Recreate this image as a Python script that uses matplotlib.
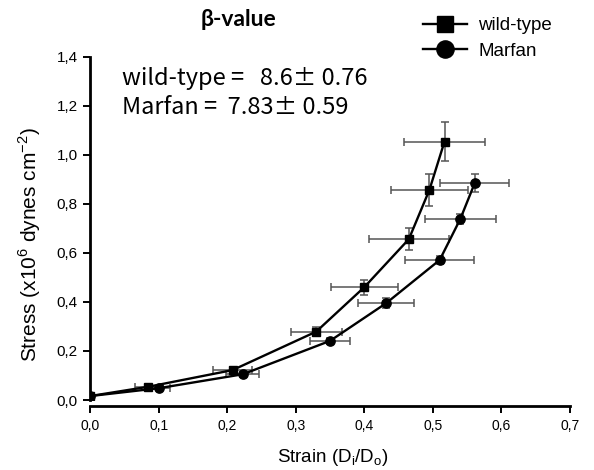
import matplotlib
matplotlib.use("Agg")
import matplotlib.pyplot as plt
import numpy as np

# wild-type data (strain, stress, errors)
wt_strain = [0.0, 0.085, 0.208, 0.330, 0.400, 0.465, 0.495, 0.517]
wt_stress = [0.016, 0.054, 0.122, 0.279, 0.460, 0.656, 0.857, 1.054]
wt_xerr = [0.0, 0.020, 0.028, 0.037, 0.049, 0.058, 0.056, 0.059]
wt_yerr = [0.0, 0.008, 0.012, 0.020, 0.030, 0.044, 0.065, 0.078]

# Marfan data
mf_strain = [0.0, 0.100, 0.223, 0.350, 0.432, 0.510, 0.540, 0.561]
mf_stress = [0.016, 0.048, 0.105, 0.241, 0.395, 0.571, 0.738, 0.884]
mf_xerr = [0.0, 0.017, 0.024, 0.029, 0.041, 0.050, 0.052, 0.050]
mf_yerr = [0.0, 0.006, 0.010, 0.012, 0.020, 0.015, 0.020, 0.037]

xticks = [0.0, 0.1, 0.2, 0.3, 0.4, 0.5, 0.6, 0.7]
yticks = [0.0, 0.2, 0.4, 0.6, 0.8, 1.0, 1.2, 1.4]

plt.rcParams['font.family'] = ['Liberation Sans', 'DejaVu Sans']
plt.rcParams['mathtext.fontset'] = 'custom'
plt.rcParams['mathtext.rm'] = 'Liberation Sans'

fig = plt.figure(figsize=(5.94, 4.70), dpi=100)
ax = fig.add_axes([90 / 594, 70 / 470, 480 / 594, 343.3 / 470])

err_kw = dict(ecolor='#555555', elinewidth=1.1, capsize=3, capthick=1.1, zorder=2)
ax.errorbar(wt_strain, wt_stress, xerr=wt_xerr, yerr=wt_yerr, fmt='none', **err_kw)
ax.errorbar(mf_strain, mf_stress, xerr=mf_xerr, yerr=mf_yerr, fmt='none', **err_kw)
ax.plot(wt_strain, wt_stress, color='black', lw=1.7, marker='s', ms=6, zorder=3, label='wild-type')
ax.plot(mf_strain, mf_stress, color='black', lw=1.7, marker='o', ms=6.7, zorder=3, label='Marfan')

ax.set_xlim(0, 0.7)
ax.set_ylim(0, 1.4)
ax.set_xticks(xticks)
ax.set_yticks(yticks)
ax.set_xticklabels([f"{t:.1f}".replace('.', ',') for t in xticks], fontsize=11)
ax.set_yticklabels([f"{t:.1f}".replace('.', ',') for t in yticks], fontsize=11)
ax.tick_params(direction='out', length=5, width=1.4, color='black', pad=4)

for s in ['top', 'right']:
    ax.spines[s].set_visible(False)
ax.spines['left'].set_linewidth(2)
ax.spines['bottom'].set_linewidth(2)
ax.spines['bottom'].set_position(('outward', 4.5))

ax.set_xlabel("Strain (D$_\\mathrm{i}$/D$_\\mathrm{o}$)", fontsize=13.5)
ax.set_ylabel("Stress (x10$^\\mathrm{6}$ dynes cm$^\\mathrm{-2}$)", fontsize=15)
ax.xaxis.set_label_coords(0.506, -0.137)
ax.yaxis.set_label_coords(-0.098, 0.454)

fig.text(239 / 594, 1 - 20 / 470, "β-value", family=['Lato', 'DejaVu Sans'],
         fontweight='bold', fontsize=16.5, ha='center', va='center')
fig.text(122 / 594, 1 - 78 / 470, "wild-type =   8.6\u00b1 0.76", family=['Noto Sans CJK JP', 'DejaVu Sans'],
         fontsize=17, ha='left', va='center')
fig.text(122 / 594, 1 - 108 / 470, "Marfan =  7.83\u00b1 0.59", family=['Noto Sans CJK JP', 'DejaVu Sans'],
         fontsize=17, ha='left', va='center')

leg = fig.legend(loc='upper left', bbox_to_anchor=(423 / 594, 1 - 17 / 470), frameon=False,
                 fontsize=13.5, handlelength=2.35, handletextpad=0.6, labelspacing=0.45,
                 borderpad=0, borderaxespad=0, markerscale=1.85)

fig.savefig("out.png", dpi=100)
